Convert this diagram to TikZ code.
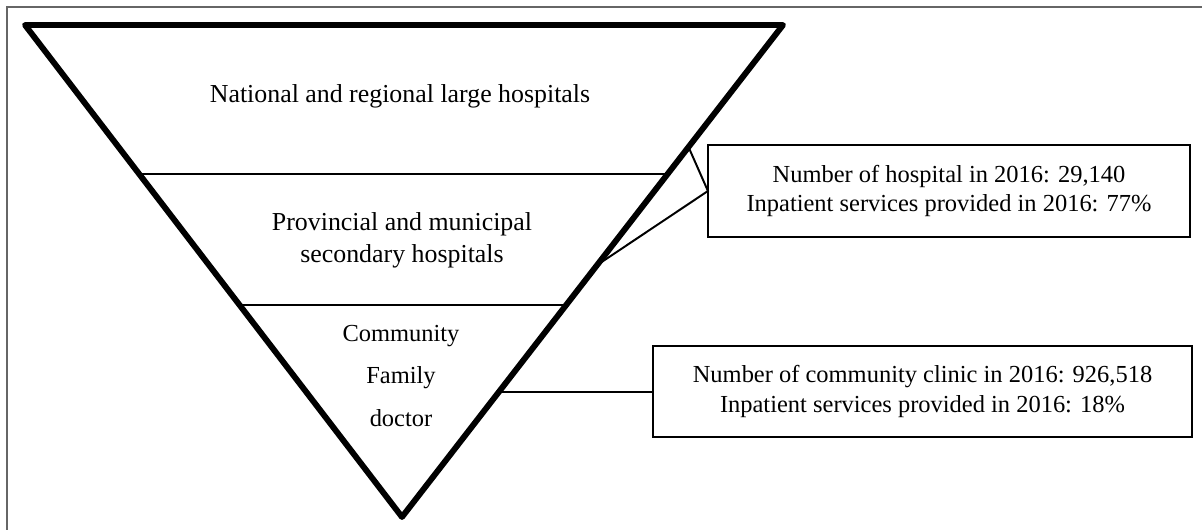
\documentclass[tikz,border=0pt]{standalone}
\usepackage{fontspec}
\setmainfont{Liberation Serif}
\usetikzlibrary{calc,positioning}
\tikzset{
frame/.style={draw=black!60,line width=1.4pt},
pyramid/.style={line width=4.2pt,line join=round},
tier/.style={line width=1.6pt},
link/.style={line width=1.4pt},
tiertext/.style={align=center,font=\fontsize{18.4}{22.8}\selectfont},
basetext/.style={align=center,font=\fontsize{17.4}{29.9}\selectfont},
infobox/.style={draw,line width=2pt,align=center,inner sep=0pt,outer sep=0pt,
    font=\fontsize{17.4}{21.3}\selectfont},
}

\begin{document}
\begin{tikzpicture}[x=0.025cm,y=-0.025cm]
    \useasboundingbox (0,0) rectangle (1202,530);
    \draw[frame] (7,530) -- (7,7) -- (1202,7);

    % corners of the pyramid
    \coordinate (tl) at (25,25);
    \coordinate (tr) at (783,25);
    \coordinate (apex) at (402,517);

    % dividing lines
    \draw[tier] ($(tl)!0.303!(apex)$) -- ($(tr)!0.303!(apex)$);
    \draw[tier] ($(tl)!0.569!(apex)$) -- ($(tr)!0.569!(apex)$);
    \draw[pyramid] (tl) -- (tr) -- (apex) -- cycle;

    \node[tiertext] (national) at (400,96) {National and regional large hospitals};
    \node[tiertext] (provincial) at (402,240) {Provincial and municipal\\secondary hospitals};
    \node[basetext] (community) at (401,376) {Community\\Family\\doctor};

    \node[infobox,minimum width=12.05cm,minimum height=2.3cm] (hosp) at (949,191)
        {Number of hospital in 2016: 29,140\\Inpatient services provided in 2016: 77\%};
    \node[infobox,minimum width=13.475cm,minimum height=2.275cm] (clinic) at (922.5,391.5)
        {Number of community clinic in 2016: 926,518\\Inpatient services provided in 2016: 18\%};

    % connectors from the pyramid to the boxes
    \coordinate (upper) at ($(tr)!0.248!(apex)$);
    \coordinate (lower) at ($(tr)!0.488!(apex)$);
    \coordinate (base) at ($(tr)!0.746!(apex)$);
    \draw[link] (upper) -- (hosp.west) -- (lower);
    \draw[link] (base) -- (base -| clinic.west);
\end{tikzpicture}
\end{document}
